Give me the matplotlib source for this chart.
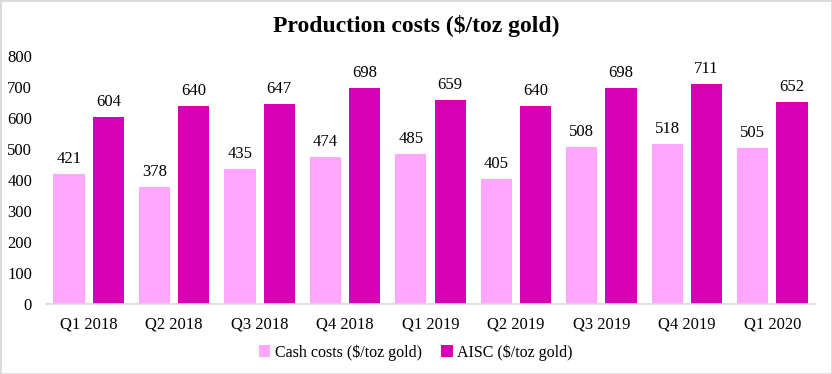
import numpy as np
from matplotlib import pyplot as plt
from matplotlib.patches import Rectangle

# Данные
quarters = ["Q1 2018", "Q2 2018", "Q3 2018", "Q4 2018", "Q1 2019",
            "Q2 2019", "Q3 2019", "Q4 2019", "Q1 2020"]
cash_costs = [421, 378, 435, 474, 485, 405, 508, 518, 505]
aisc = [604, 640, 647, 698, 659, 640, 698, 711, 652]

plt.rcParams['font.family'] = ['Liberation Serif', 'DejaVu Serif']

fig = plt.figure(figsize=(8.32, 3.74), dpi=100)
ax = fig.add_axes([0.0553, 0.187, 0.9243, 0.663])

x = np.arange(len(quarters))
w = 0.365
off = 0.23
b1 = ax.bar(x - off, cash_costs, w, color='#FFA6FF', label='Cash costs ($/toz gold)')
b2 = ax.bar(x + off, aisc, w, color='#D600B4', label='AISC ($/toz gold)')

for bars in (b1, b2):
    ax.bar_label(bars, padding=5, fontsize=12)

ax.set_xlim(-0.5, len(quarters) - 0.5)
ax.set_ylim(0, 800)
ax.set_yticks(range(0, 801, 100))
ax.set_xticks(x)
ax.set_xticklabels(quarters)
ax.tick_params(axis='both', length=0, labelsize=12)
ax.tick_params(axis='y', pad=10)
ax.tick_params(axis='x', pad=9)

for s in ('top', 'right', 'left'):
    ax.spines[s].set_visible(False)
ax.spines['bottom'].set_color('#D9D9D9')
ax.spines['bottom'].set_linewidth(1.2)

fig.text(0.5, 0.93, "Production costs ($/toz gold)", ha='center', va='center',
         fontsize=17, fontweight='bold')

fig.legend(handles=[b1, b2], loc='center', bbox_to_anchor=(0.5, 0.058), ncol=2,
           frameon=False, fontsize=11.5, handlelength=0.7, handleheight=0.7,
           handletextpad=0.3, columnspacing=1.2)

# рамка вокруг рисунка
fig.patches.append(Rectangle((0, 0), 1, 1, transform=fig.transFigure,
                             fill=False, edgecolor='#D9D9D9', linewidth=2))

fig.savefig('out.png', dpi=100)
